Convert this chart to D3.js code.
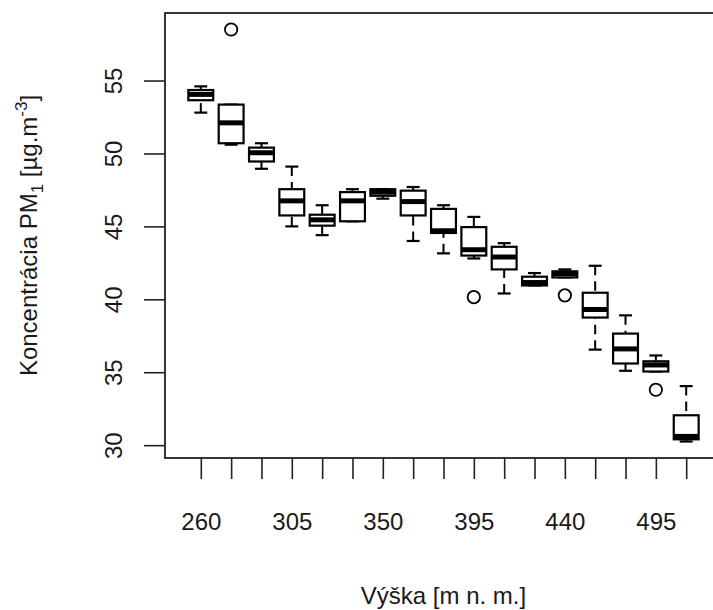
<!DOCTYPE html>
<html>
<head>
<meta charset="utf-8">
<script src="https://cdn.jsdelivr.net/npm/d3@7"></script>
<style>
  body { margin: 0; background: #fff; }
  svg { display: block; }
  text { font-family: "Liberation Sans", Arial, sans-serif; fill: #1a1a1a; }
</style>
</head>
<body>
<svg id="chart" width="713" height="610"></svg>
<script>
// nadmorske vysky, na osi sa zmesti len kazdy treti popis
let vysky = [260, 275, 290, 305, 320, 335, 350, 365, 380, 395, 410, 425, 440, 460, 475, 495, 510];
let dolnyFuz = [52.8, 50.6, 48.95, 45.0, 44.4, 45.35, 46.9, 44.0, 43.15, 42.8, 40.4, 40.95, 41.5, 36.55, 35.1, 35.05, 30.25];
let kvartil1 = [53.65, 50.7, 49.45, 45.75, 45.05, 45.35, 47.1, 45.75, 44.55, 43.0, 42.05, 40.95, 41.5, 38.75, 35.6, 35.05, 30.4];
let median = [54.05, 52.1, 50.05, 46.75, 45.45, 46.75, 47.35, 46.7, 44.7, 43.4, 42.9, 41.15, 41.75, 39.3, 36.6, 35.5, 30.6];
let kvartil3 = [54.35, 53.35, 50.4, 47.55, 45.8, 47.35, 47.55, 47.45, 46.2, 44.95, 43.6, 41.55, 41.92, 40.45, 37.65, 35.75, 32.05];
let hornyFuz = [54.6, 53.35, 50.7, 49.1, 46.45, 47.55, 47.55, 47.7, 46.45, 45.65, 43.85, 41.8, 42.05, 42.3, 38.9, 36.15, 34.05];
let odlahleIdx = [1, 9, 12, 15];
let odlahleHod = [58.5, 40.15, 40.27, 33.8];
let yTicks = [30, 35, 40, 45, 50, 55];

let n = vysky.length;
let pLeft = 165, pRight = 722, pTop = 13, pBottom = 458;

// ako v R: rozsah 0.5 .. n+0.5 a 4 % navyse
let xScale = d3.scaleLinear()
  .domain([0.5 - 0.04 * n, n + 0.5 + 0.04 * n])
  .range([pLeft, pRight]);
let lo = d3.min(dolnyFuz);
let hi = d3.max(hornyFuz.concat(odlahleHod));
let ext = (hi - lo) * 0.04;
let yScale = d3.scaleLinear()
  .domain([lo - ext, hi + ext])
  .range([pBottom, pTop]);

let svg = d3.select('#chart');
let boxW = xScale(0.82) - xScale(0);
let capW = boxW * 0.52;

let boxes = svg.append('g')
  .selectAll('g')
  .data(d3.range(n))
  .join('g')
  .attr('transform', function(i) {return 'translate(' + xScale(i + 1) + ',0)'});

// fuzy idu od konca k boxu, ako segments() v bxp
boxes.append('line')
  .attr('y1', function(i) {return yScale(hornyFuz[i])})
  .attr('y2', function(i) {return yScale(kvartil3[i])})
  .attr('stroke', '#000').attr('stroke-width', 2).attr('stroke-dasharray', '9.5,6');
boxes.append('line')
  .attr('y1', function(i) {return yScale(dolnyFuz[i])})
  .attr('y2', function(i) {return yScale(kvartil1[i])})
  .attr('stroke', '#000').attr('stroke-width', 2).attr('stroke-dasharray', '9.5,6');
boxes.append('line')
  .attr('x1', -capW / 2).attr('x2', capW / 2)
  .attr('y1', function(i) {return yScale(hornyFuz[i])})
  .attr('y2', function(i) {return yScale(hornyFuz[i])})
  .attr('stroke', '#000').attr('stroke-width', 2.2);
boxes.append('line')
  .attr('x1', -capW / 2).attr('x2', capW / 2)
  .attr('y1', function(i) {return yScale(dolnyFuz[i])})
  .attr('y2', function(i) {return yScale(dolnyFuz[i])})
  .attr('stroke', '#000').attr('stroke-width', 2.2);
boxes.append('rect')
  .attr('x', -boxW / 2).attr('width', boxW)
  .attr('y', function(i) {return yScale(kvartil3[i])})
  .attr('height', function(i) {return yScale(kvartil1[i]) - yScale(kvartil3[i])})
  .attr('fill', '#fff').attr('stroke', '#000').attr('stroke-width', 2.2);
boxes.append('line')
  .attr('x1', -boxW / 2).attr('x2', boxW / 2)
  .attr('y1', function(i) {return yScale(median[i])})
  .attr('y2', function(i) {return yScale(median[i])})
  .attr('stroke', '#000').attr('stroke-width', 5);

svg.append('g')
  .selectAll('circle')
  .data(odlahleIdx)
  .join('circle')
  .attr('cx', function(d) {return xScale(d + 1)})
  .attr('cy', function(d, i) {return yScale(odlahleHod[i])})
  .attr('r', 6.2)
  .attr('fill', 'none').attr('stroke', '#000').attr('stroke-width', 1.8);

// ramik
svg.append('rect')
  .attr('x', pLeft).attr('y', pTop)
  .attr('width', pRight - pLeft).attr('height', pBottom - pTop)
  .attr('fill', 'none').attr('stroke', '#222').attr('stroke-width', 1.8);

let gx = svg.append('g')
  .attr('transform', 'translate(0,' + pBottom + ')')
  .call(d3.axisBottom(xScale)
    .tickValues(d3.range(1, n + 1))
    .tickSize(21)
    .tickFormat(function(d) {return vysky[d - 1]}));
gx.select('.domain').remove();
gx.selectAll('line').attr('stroke', '#222').attr('stroke-width', 1.6);
gx.selectAll('text')
  .attr('y', 72).attr('dy', 0)
  .attr('fill', '#1a1a1a')
  .style('font-size', '24px');

// prekryvajuce sa popisy R vynecha
let lastRight = -Infinity;
gx.selectAll('text').each(function(d) {
  let w = this.getComputedTextLength();
  let x = xScale(d);
  if (x - w / 2 < lastRight + 24) {
    d3.select(this).remove();
  } else {
    lastRight = x + w / 2;
  }
});

let gy = svg.append('g')
  .attr('transform', 'translate(' + pLeft + ',0)')
  .call(d3.axisLeft(yScale).tickValues(yTicks).tickSize(21));
gy.select('.domain').remove();
gy.selectAll('line').attr('stroke', '#222').attr('stroke-width', 1.6);
gy.selectAll('text')
  .attr('x', 0).attr('dy', 0)
  .attr('transform', 'translate(-43.5,0) rotate(-90)')
  .attr('text-anchor', 'middle')
  .attr('fill', '#1a1a1a')
  .style('font-size', '24px');

svg.append('text')
  .attr('x', (pLeft + pRight) / 2).attr('y', 604)
  .attr('text-anchor', 'middle')
  .style('font-size', '24px')
  .text('Výška [m n. m.]');

let yt = svg.append('text')
  .attr('transform', 'translate(37,' + (pTop + pBottom) / 2 + ') rotate(-90)')
  .attr('text-anchor', 'middle')
  .style('font-size', '24px');
yt.append('tspan').text('Koncentrácia PM');
yt.append('tspan').attr('dy', 6).style('font-size', '17px').text('1');
yt.append('tspan').attr('dy', -6).text(' [µg.m');
yt.append('tspan').attr('dy', -10).style('font-size', '17px').text('-3');
yt.append('tspan').attr('dy', 10).text(']');
</script>
</body>
</html>
